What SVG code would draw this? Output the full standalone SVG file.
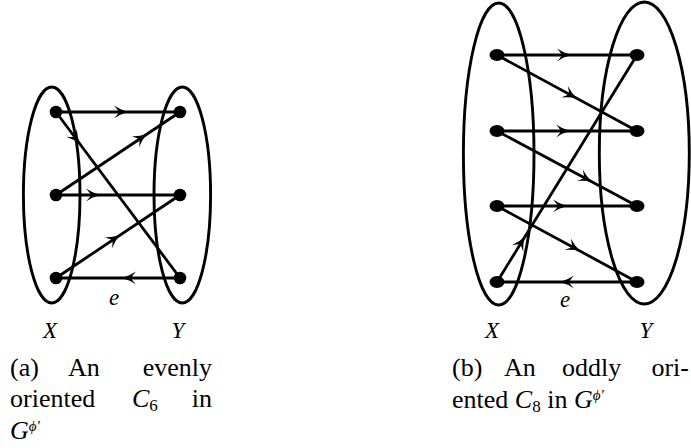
<svg xmlns="http://www.w3.org/2000/svg" xmlns:xlink="http://www.w3.org/1999/xlink" width="691" height="448" viewBox="0 0 691 448">
<style>
.ell{fill:none;stroke:#000;stroke-width:2.9}
.edge{fill:none;stroke:#000;stroke-width:2.8}
.node{fill:#000}
.lbl{font-family:"Liberation Serif","DejaVu Serif",serif;font-style:italic;font-size:23px;fill:#000;text-anchor:middle}
.cap{font-family:"Liberation Serif","DejaVu Serif",serif;font-size:26px;fill:#000}
.it{font-style:italic}
.sub{font-size:17px}
.sup{font-size:15px;font-style:italic}
</style>
<defs>
<path id="ah" d="M0,0 Q-7,-1.8 -14,-6.5 Q-10,-2 -9,0 Q-10,2 -14,6.5 Q-7,1.8 0,0 Z" fill="#000"/>
</defs>
<g id="left">
<g id="setX_a"><ellipse class="ell" cx="51.7" cy="195" rx="28.3" ry="108"/></g>
<g id="setY_a"><ellipse class="ell" cx="182.3" cy="195" rx="28.3" ry="108"/></g>
<g id="connectors_a">
<line class="edge" x1="56" y1="112" x2="180" y2="112"/>
<line class="edge" x1="56" y1="112" x2="180" y2="278"/>
<line class="edge" x1="56" y1="195" x2="180" y2="112"/>
<line class="edge" x1="56" y1="195" x2="180" y2="195"/>
<line class="edge" x1="56" y1="278" x2="180" y2="195"/>
<line class="edge" x1="180" y1="278" x2="56" y2="278"/>
<use xlink:href="#ah" transform="translate(128,112)"/>
<use xlink:href="#ah" transform="translate(80,144) rotate(53.2)"/>
<use xlink:href="#ah" transform="translate(147,134) rotate(-33.8)"/>
<use xlink:href="#ah" transform="translate(100,195)"/>
<use xlink:href="#ah" transform="translate(120,235) rotate(-33.8)"/>
<use xlink:href="#ah" transform="translate(122,278) rotate(180)"/>
</g>
<g id="x1a"><circle class="node" cx="56" cy="112" r="6.3"/></g>
<g id="x2a"><circle class="node" cx="56" cy="195" r="6.3"/></g>
<g id="x3a"><circle class="node" cx="56" cy="278" r="6.3"/></g>
<g id="y1a"><circle class="node" cx="180" cy="112" r="6.3"/></g>
<g id="y2a"><circle class="node" cx="180" cy="195" r="6.3"/></g>
<g id="y3a"><circle class="node" cx="180" cy="278" r="6.3"/></g>
<text class="lbl" x="114" y="305">e</text>
<text class="lbl" x="50" y="338">X</text>
<text class="lbl" x="178" y="338">Y</text>
</g>
<g id="right">
<g id="setX_b"><ellipse class="ell" cx="498.7" cy="154" rx="35.3" ry="151"/></g>
<g id="setY_b"><ellipse class="ell" cx="644.3" cy="153" rx="45" ry="151"/></g>
<g id="connectors_b">
<line class="edge" x1="497" y1="55" x2="637" y2="55"/>
<line class="edge" x1="497" y1="55" x2="637" y2="131"/>
<line class="edge" x1="497" y1="131" x2="637" y2="131"/>
<line class="edge" x1="497" y1="131" x2="637" y2="206"/>
<line class="edge" x1="497" y1="206" x2="637" y2="206"/>
<line class="edge" x1="497" y1="206" x2="637" y2="282"/>
<line class="edge" x1="637" y1="282" x2="497" y2="282"/>
<line class="edge" x1="497" y1="282" x2="637" y2="55"/>
<use xlink:href="#ah" transform="translate(571,55)"/>
<use xlink:href="#ah" transform="translate(577,98.4) rotate(28.5)"/>
<use xlink:href="#ah" transform="translate(570,131)"/>
<use xlink:href="#ah" transform="translate(592,181.9) rotate(28.2)"/>
<use xlink:href="#ah" transform="translate(567,206)"/>
<use xlink:href="#ah" transform="translate(580,251) rotate(28.5)"/>
<use xlink:href="#ah" transform="translate(560,282) rotate(180)"/>
<use xlink:href="#ah" transform="translate(525,236.6) rotate(-58.3)"/>
</g>
<g id="x1b"><ellipse class="node" cx="497" cy="55" rx="7.5" ry="6"/></g>
<g id="x2b"><ellipse class="node" cx="497" cy="131" rx="7.5" ry="6"/></g>
<g id="x3b"><ellipse class="node" cx="497" cy="206" rx="7.5" ry="6"/></g>
<g id="x4b"><ellipse class="node" cx="497" cy="282" rx="7.5" ry="6"/></g>
<g id="y1b"><ellipse class="node" cx="637" cy="55" rx="7.5" ry="6"/></g>
<g id="y2b"><ellipse class="node" cx="637" cy="131" rx="7.5" ry="6"/></g>
<g id="y3b"><ellipse class="node" cx="637" cy="206" rx="7.5" ry="6"/></g>
<g id="y4b"><ellipse class="node" cx="637" cy="282" rx="7.5" ry="6"/></g>
<text class="lbl" x="565" y="307">e</text>
<text class="lbl" x="492" y="338">X</text>
<text class="lbl" x="646" y="338">Y</text>
</g>
<g id="caption_a">
<text class="cap" x="10" y="376">(a)</text>
<text class="cap" x="68" y="376">An</text>
<text class="cap" x="212" y="376" text-anchor="end">evenly</text>
<text class="cap" x="10" y="407">oriented</text>
<text class="cap" x="132" y="407"><tspan class="it">C</tspan><tspan class="sub" dy="4">6</tspan></text>
<text class="cap" x="212" y="407" text-anchor="end">in</text>
<text class="cap" x="10" y="439"><tspan class="it">G</tspan><tspan class="sup" dy="-8">ϕ′</tspan></text>
</g>
<g id="caption_b">
<text class="cap" x="452" y="376">(b)</text>
<text class="cap" x="504" y="376">An</text>
<text class="cap" x="562" y="376">oddly</text>
<text class="cap" x="689" y="376" text-anchor="end">ori-</text>
<text class="cap" x="452" y="408">ented <tspan class="it">C</tspan><tspan class="sub" dy="4">8</tspan><tspan dy="-4"> in </tspan><tspan class="it">G</tspan><tspan class="sup" dy="-8">ϕ′</tspan></text>
</g>
</svg>
